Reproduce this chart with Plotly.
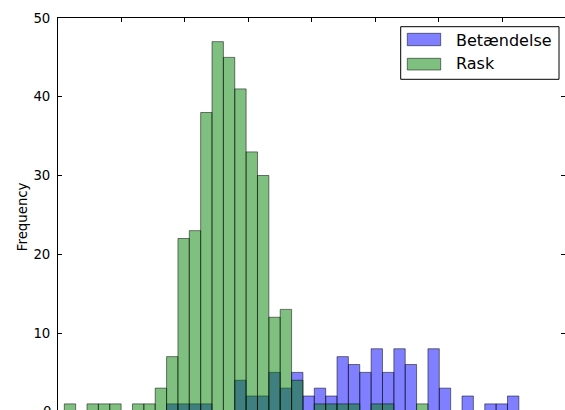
import numpy as np
import plotly.graph_objects as go

# ---- data (histogram counts per bin, 40 shared bins) ----
betaendelse_counts = [0, 0, 0, 0, 0, 0, 0, 0, 0, 1,
                      1, 1, 1, 0, 0, 4, 2, 2, 5, 3,
                      5, 2, 3, 2, 7, 6, 5, 8, 5, 8,
                      6, 0, 8, 3, 0, 2, 0, 1, 1, 2]
rask_counts = [1, 0, 1, 1, 1, 0, 1, 1, 3, 7,
               22, 23, 38, 47, 45, 41, 33, 30, 12, 13,
               4, 0, 1, 1, 1, 1, 0, 1, 1, 0,
               0, 1, 0, 0, 0, 0, 0, 0, 0, 0]
series_names = ["Betændelse", "Rask"]
y_tick_values = [10, 20, 30, 40, 50]
x_tick_values = [0, 1, 2, 3, 4, 5, 6, 7, 8]

# ---- bin geometry (x axis labels are cropped out in the reference) ----
bin_start = 0.0993
bin_width = 0.1791
n_bins = len(rask_counts)
centers = bin_start + bin_width * (np.arange(n_bins) + 0.5)

W, H = 565, 410
ML, MT = 58, 18
PW, PH = W - ML, H - MT
Y_PER_UNIT = 7.875

def px_x(p):
    return (p - ML) / PW

def px_y(p):
    return (H - p) / PH

FONT = "DejaVu Sans"
blue_fill = "rgba(0,0,255,0.5)"
green_fill = "rgba(0,128,0,0.5)"
edge = "rgba(0,0,0,0.5)"

fig = go.Figure()
fig.add_trace(go.Bar(x=centers, y=betaendelse_counts, width=bin_width,
                     name=series_names[0],
                     marker=dict(color=blue_fill, line=dict(color=edge, width=1))))
fig.add_trace(go.Bar(x=centers, y=rask_counts, width=bin_width,
                     name=series_names[1],
                     marker=dict(color=green_fill, line=dict(color=edge, width=1))))

fig.update_layout(
    width=W, height=H,
    template="none",
    barmode="overlay",
    showlegend=False,
    paper_bgcolor="white", plot_bgcolor="white",
    margin=dict(l=ML, r=0, t=MT, b=0, pad=0),
    font=dict(family=FONT, size=13.3, color="black"),
    xaxis=dict(range=[0, PW / 63.45], side="top", showline=True, linecolor="black",
               linewidth=1, ticks="inside", ticklen=4, tickcolor="black",
               tickvals=x_tick_values, showticklabels=False, showgrid=False,
               zeroline=False, automargin=False),
    yaxis=dict(range=[50 - PH / Y_PER_UNIT, 50], showline=True, linecolor="black",
               linewidth=1, mirror="ticks", ticks="inside", ticklen=4,
               tickcolor="black", tickvals=y_tick_values,
               tickfont=dict(family=FONT, size=13.3, color="black"),
               showgrid=False, zeroline=False, automargin=False,
               ticklabelstandoff=4),
)

# pixel row of the y=0 tick (just below the visible window, as in the reference)
zero_px = MT + 50 * Y_PER_UNIT

annotations = [
    dict(text="Frequency", textangle=-90, x=px_x(22.5), y=px_y(216.7),
         xref="paper", yref="paper", showarrow=False, xanchor="center",
         yanchor="middle", font=dict(family=FONT, size=13.3, color="black")),
    dict(text="0", x=0, y=px_y(zero_px), xref="paper", yref="paper", showarrow=False,
         xanchor="right", yanchor="middle", xshift=-5,
         font=dict(family=FONT, size=13.3, color="black")),
]

# manual legend (matplotlib-style wide patches)
shapes = [dict(type="rect", xref="paper", yref="paper",
               x0=px_x(400.7), x1=px_x(559), y0=px_y(79.3), y1=px_y(26.7),
               line=dict(color="black", width=1), fillcolor="white")]
for name, fill, top, bot, ty in [(series_names[0], blue_fill, 33.3, 45.7, 40.0),
                                 (series_names[1], green_fill, 58.3, 70.0, 63.8)]:
    shapes.append(dict(type="rect", xref="paper", yref="paper",
                       x0=px_x(407.3), x1=px_x(440.7), y0=px_y(bot), y1=px_y(top),
                       line=dict(color=edge, width=1), fillcolor=fill))
    annotations.append(dict(text=name, x=px_x(454.3), y=px_y(ty), xref="paper",
                            yref="paper", showarrow=False, xanchor="left",
                            yanchor="middle",
                            font=dict(family=FONT, size=16, color="black")))

fig.update_layout(shapes=shapes, annotations=annotations)
fig.write_html("out.html")
